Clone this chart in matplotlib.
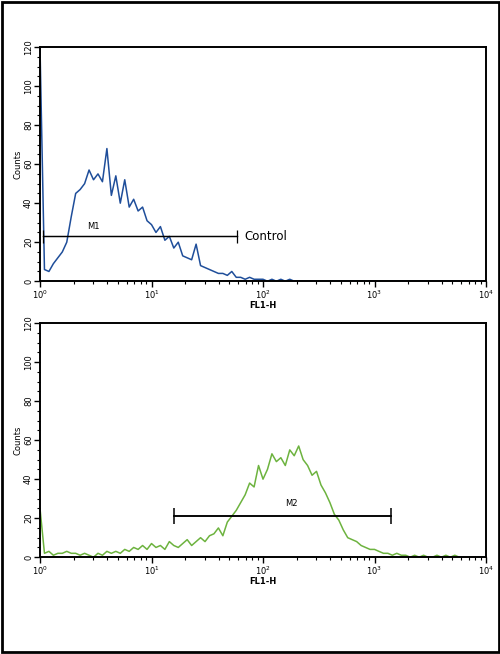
import numpy as np
import matplotlib.pyplot as plt
from matplotlib.patches import Rectangle
from matplotlib.ticker import LogLocator, MultipleLocator

# channel positions in log10 units, step 0.04
log_pos = np.round(np.arange(0, 4.0001, 0.04), 2)

control_counts = [120, 6, 5, 9, 12, 15, 20, 33, 45, 47, 50, 57, 52, 55, 51, 68, 44, 54, 40, 52,
                  38, 42, 36, 38, 31, 29, 25, 28, 21, 23, 17, 20, 13, 12, 11, 19, 8, 7, 6, 5,
                  4, 4, 3, 5, 2, 2, 1, 2, 1, 1, 1, 0, 1, 0, 1, 0, 1]
sample_counts = [25, 2, 3, 1, 2, 2, 3, 2, 2, 1, 2, 1, 0, 2, 1, 3, 2, 3, 2, 4,
                 3, 5, 4, 6, 4, 7, 5, 6, 4, 8, 6, 5, 7, 9, 6, 8, 10, 8, 11, 12,
                 15, 11, 18, 21, 24, 28, 32, 38, 36, 47, 40, 45, 53, 49, 51, 47, 55, 52, 57, 50,
                 47, 42, 44, 37, 33, 28, 22, 19, 14, 10, 9, 8, 6, 5, 4, 4, 3, 2, 2, 1,
                 2, 1, 1, 0, 1, 0, 1, 0, 0, 1, 0, 1, 0, 1]
control_counts += [0] * (len(log_pos) - len(control_counts))
sample_counts += [0] * (len(log_pos) - len(sample_counts))

fig = plt.figure(figsize=(5, 6.54), dpi=100)
fig.add_artist(Rectangle((0.003, 0.003), 0.994, 0.994, transform=fig.transFigure,
                         fill=False, ec="black", lw=2))


def style_axis(ax):
    ax.set_xscale("log")
    ax.set_xlim(1, 1e4)
    ax.set_ylim(0, 120)
    ax.yaxis.set_major_locator(MultipleLocator(20))
    ax.yaxis.set_minor_locator(MultipleLocator(5))
    ax.xaxis.set_major_locator(LogLocator(base=10))
    ax.xaxis.set_minor_locator(LogLocator(base=10, subs=np.arange(2, 10)))
    ax.tick_params(axis="both", which="major", labelsize=6, length=4, width=1, pad=1)
    ax.tick_params(axis="both", which="minor", length=2, width=0.8)
    for lab in ax.get_yticklabels():
        lab.set_rotation(90)
        lab.set_va("center")
    for s in ax.spines.values():
        s.set_linewidth(1.4)
    ax.set_ylabel("Counts", fontsize=6, labelpad=1)
    ax.set_xlabel("FL1-H", fontsize=6, fontweight="bold", labelpad=0)


ax1 = fig.add_axes([0.08, 0.570, 0.892, 0.358])
ax1.plot(10 ** log_pos, control_counts, color="#1f4e9a", lw=1.1)
style_axis(ax1)
ax1.errorbar([1.07, 58], [23, 23], yerr=3.5, color="black", lw=0.9, capsize=0)
ax1.plot([1.07, 58], [23, 23], color="black", lw=0.9)
ax1.text(3.0, 27, "M1", fontsize=6, ha="center")
ax1.text(68, 23, "Control", fontsize=8.5, va="center")

ax2 = fig.add_axes([0.08, 0.148, 0.892, 0.358])
ax2.plot(10 ** log_pos, sample_counts, color="#6db33f", lw=1.1)
style_axis(ax2)
ax2.errorbar([16, 1400], [21, 21], yerr=4, color="black", lw=1.1, capsize=0)
ax2.plot([16, 1400], [21, 21], color="black", lw=1.1)
ax2.text(180, 26, "M2", fontsize=6, ha="center")

fig.savefig("out.png", dpi=100)
